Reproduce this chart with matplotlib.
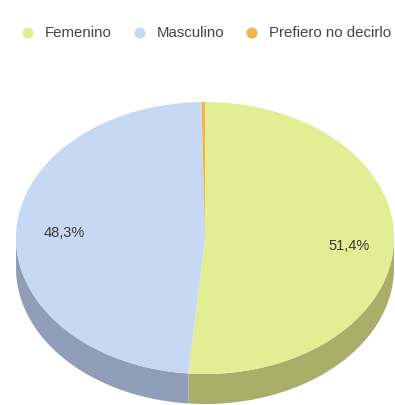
"""
3D-style pie chart of respondents by gender, drawn with polygons.
"""

import numpy as np
import matplotlib.pyplot as plt
from matplotlib.patches import Polygon, Circle

plt.rcParams['font.family'] = ['Liberation Sans', 'DejaVu Sans']

# Data
labels = ['Femenino', 'Masculino', 'Prefiero no decirlo']
values = [51.4, 48.3, 0.3]
pct_labels = ['51,4%', '48,3%', '']
top_colors = ['#e2ee94', '#c7d8f4', '#f0b44a']
side_colors = ['#a9af68', '#8f9db8', '#b88a3a']

# Pie geometry (pixels, y downwards)
CX, CY = 205, 238
RX, RY = 189, 136
DEPTH = 30


def ellipse_pts(theta):
    # theta measured clockwise from 12 o'clock, in radians
    return CX + RX * np.sin(theta), CY - RY * np.cos(theta)


fig = plt.figure(figsize=(3.95, 4.05), dpi=100)
ax = fig.add_axes([0, 0, 1, 1])
ax.set_xlim(0, 395)
ax.set_ylim(405, 0)
ax.axis('off')

fractions = np.array(values) / sum(values)
bounds = np.concatenate([[0], np.cumsum(fractions)]) * 2 * np.pi

# Side walls (only the front half, 90..270 degrees, is visible)
for i in range(len(values)):
    a0 = max(bounds[i], np.pi / 2)
    a1 = min(bounds[i + 1], 3 * np.pi / 2)
    if a1 <= a0:
        continue
    t = np.linspace(a0, a1, 100)
    x, y = ellipse_pts(t)
    pts = np.column_stack([np.concatenate([x, x[::-1]]),
                           np.concatenate([y, y[::-1] + DEPTH])])
    ax.add_patch(Polygon(pts, closed=True, facecolor=side_colors[i],
                         edgecolor='none'))

# Top wedges
for i in range(len(values)):
    t = np.linspace(bounds[i], bounds[i + 1], 200)
    x, y = ellipse_pts(t)
    pts = np.column_stack([np.concatenate([[CX], x]), np.concatenate([[CY], y])])
    ax.add_patch(Polygon(pts, closed=True, facecolor=top_colors[i],
                         edgecolor='none'))

# Percentage labels
label_pos = [(349, 246), (64, 233)]
for i, (lx, ly) in enumerate(label_pos):
    ax.text(lx, ly, pct_labels[i], ha='center', va='center',
            fontsize=10.5, color='#3a3a3a')

# Legend along the top
legend_x = [28, 140, 252]
for i, lbl in enumerate(labels):
    ax.add_patch(Circle((legend_x[i], 33), 5.5, facecolor=top_colors[i],
                        edgecolor='none'))
    ax.text(legend_x[i] + 17, 33, lbl, ha='left', va='center',
            fontsize=10.8, color='#444444')

fig.savefig('out.png', dpi=100, facecolor='white')
